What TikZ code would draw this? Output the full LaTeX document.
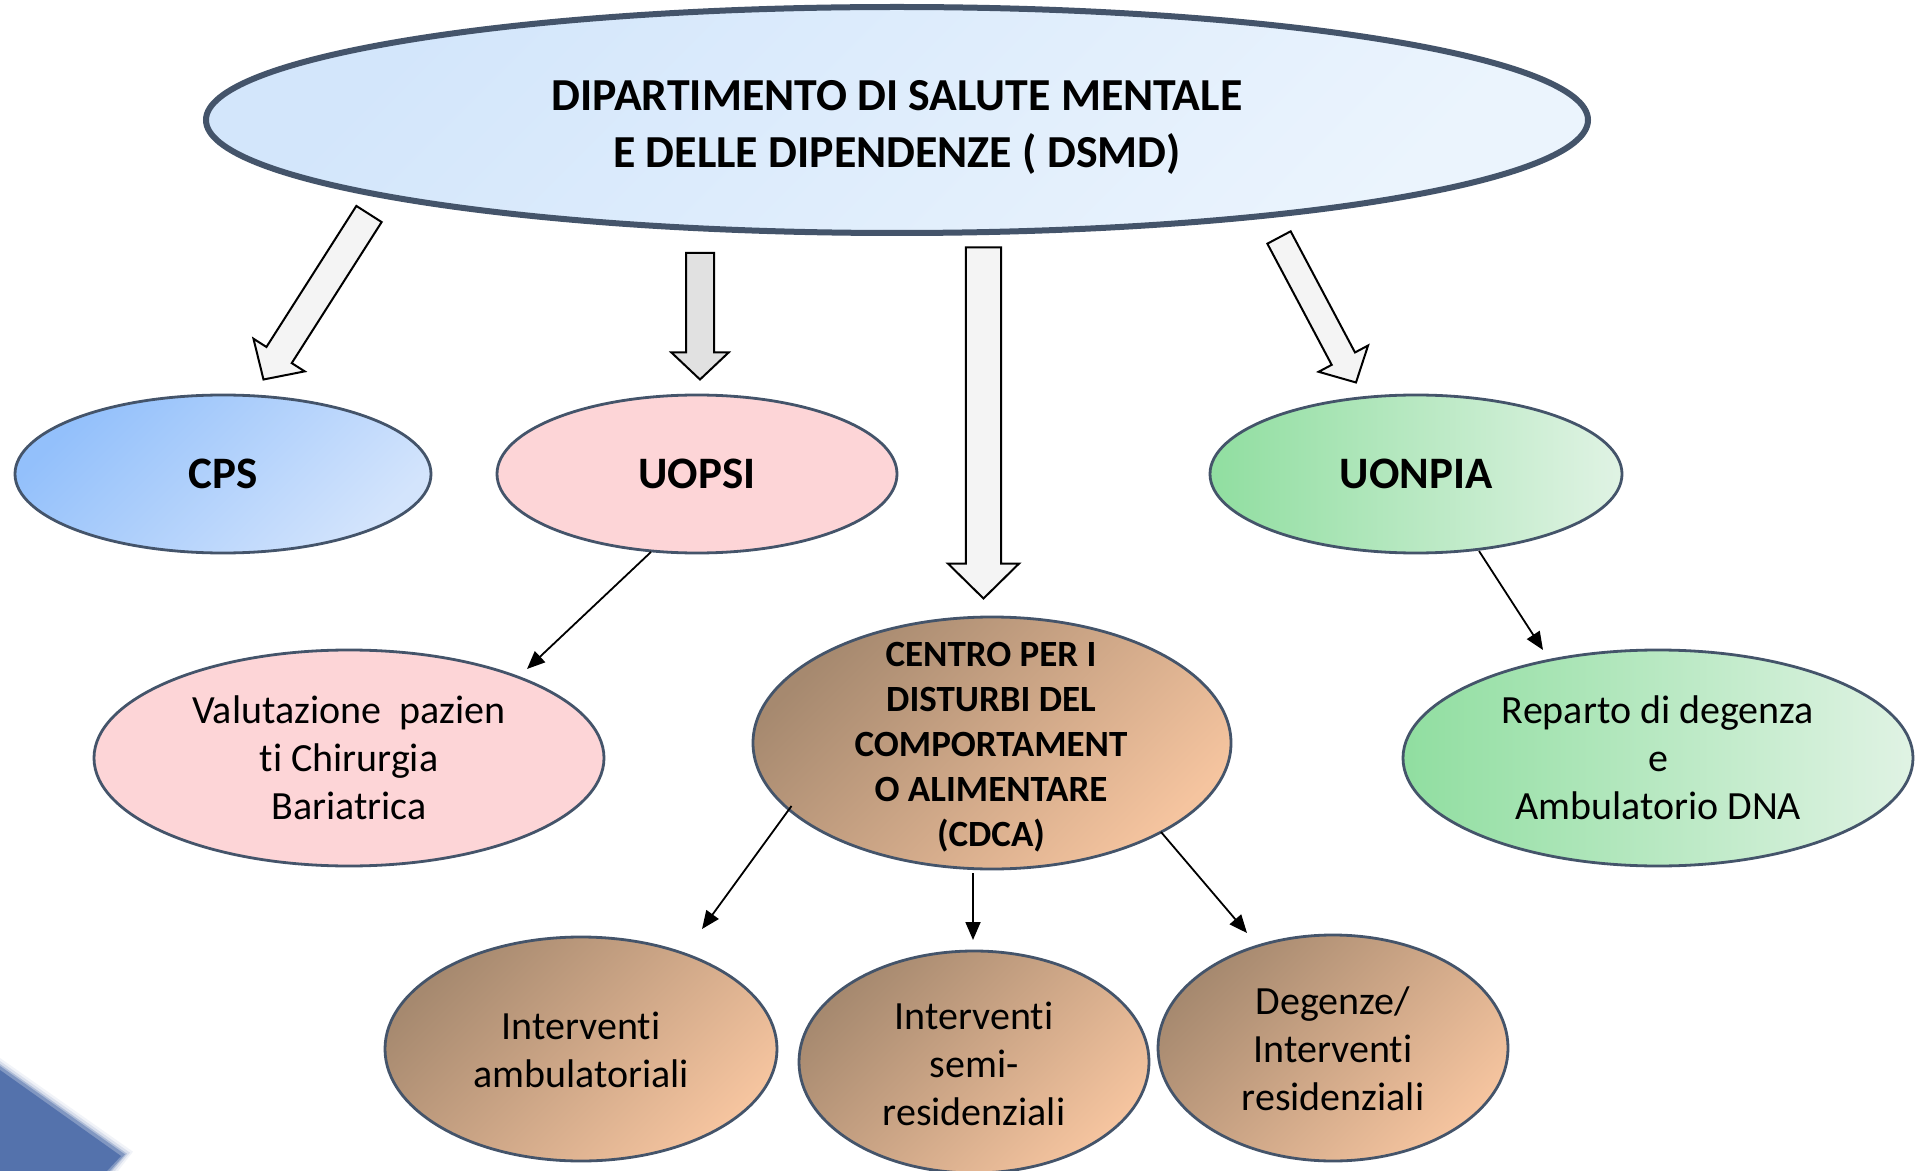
\documentclass[tikz,border=0pt]{standalone}
\usepackage{fontspec}
\setmainfont[Ligatures=NoCommon]{Carlito}
\usetikzlibrary{shapes.geometric,calc,arrows.meta}
\definecolor{edgec}{HTML}{44546A}
\definecolor{mainA}{HTML}{D3E6FB}
\definecolor{mainB}{HTML}{EBF4FD}
\definecolor{cpsA}{HTML}{93C0FB}
\definecolor{cpsB}{HTML}{D3E4FC}
\definecolor{pinkc}{HTML}{FDD5D7}
\definecolor{grA}{HTML}{90DEA0}
\definecolor{grB}{HTML}{E0F3E4}
\definecolor{brA}{HTML}{A6896F}
\definecolor{brB}{HTML}{F5C49F}
\definecolor{blobc}{HTML}{5472AC}
\definecolor{arrf}{HTML}{F4F4F4}
\definecolor{arrg}{HTML}{E1E1E1}
\newcommand{\blockarr}[6]{%
  \path ($(#2)!#5!(#1)$) coordinate (hb);
  \draw[blockarrow,fill=#6] ($(#1)!#3!90:(#2)$) -- ($(hb)!#3!90:(#2)$) -- ($(hb)!#4!90:(#2)$) -- (#2) -- ($(hb)!#4!-90:(#2)$) -- ($(hb)!#3!-90:(#2)$) -- ($(#1)!#3!-90:(#2)$) -- cycle;
}
\begin{document}
\begin{tikzpicture}[x=0.5pt,y=-0.5pt,
  ell/.style={ellipse, draw=edgec, line width=1.4pt, inner sep=0pt},
  mainell/.style={ell, line width=3pt, top color=mainA, bottom color=mainB, shading angle=45},
  cpsell/.style={ell, top color=cpsA, bottom color=cpsB, shading angle=45},
  pinkell/.style={ell, fill=pinkc},
  greenell/.style={ell, left color=grA, right color=grB},
  brownell/.style={ell, top color=brA, bottom color=brB, shading angle=45},
  thin/.style={-{Triangle[length=9pt,width=7.5pt]}, line width=0.9pt},
  blockarrow/.style={draw=black, line width=1pt, line join=miter},
  tmain/.style={font=\bfseries\fontsize{22.9}{28.5}\selectfont, align=center},
  tbig/.style={font=\bfseries\fontsize{22.5}{27}\selectfont, align=center},
  tcdca/.style={font=\bfseries\fontsize{18.5}{22.5}\selectfont, align=center},
  treg/.style={font=\fontsize{20}{24}\selectfont, align=center}
]
\useasboundingbox (0,0) rectangle (1922,1171);
\fill[white] (0,0) rectangle (1922,1171);

% decorative blob (soft edge)
\foreach \d/\o in {10/0.08,7/0.15,4/0.3,2/0.5}{
  \fill[blobc, opacity=\o] (0,1068-\d) -- (123+\d,1155-\d/3) -- (108+\d,1171) -- (0,1171) -- cycle;
}
\fill[blobc] (0,1070) -- (121,1156) -- (107,1171) -- (0,1171) -- cycle;

% ellipses
\node[mainell, minimum width=1382pt/2, minimum height=226pt/2] (dsmd) at (897,120) {};
\node[tmain] (dsmdt) at (897,127) {DIPARTIMENTO DI SALUTE MENTALE\\E DELLE DIPENDENZE ( DSMD)};

\node[cpsell, minimum width=208pt, minimum height=79pt] (cps) at (223,474) {};
\node[tbig] (cpst) at (cps) {CPS};
\node[pinkell, minimum width=200pt, minimum height=79pt] (uopsi) at (697,474) {};
\node[tbig] (uopsit) at (uopsi) {UOPSI};
\node[greenell, minimum width=206pt, minimum height=79pt] (uonpia) at (1416,474) {};
\node[tbig] (uonpiat) at (uonpia) {UONPIA};

\node[pinkell, minimum width=255pt, minimum height=108pt] (valut) at (349,758) {};
\node[treg] (valutt) at (349,758) {Valutazione~ pazien\\ti Chirurgia\\Bariatrica};
\node[brownell, minimum width=239pt, minimum height=126pt] (cdca) at (992,743) {};
\node[tcdca] (cdcat) at (991,747) {CENTRO PER I\\DISTURBI DEL\\COMPORTAMENT\\O ALIMENTARE\\(CDCA)};
\node[greenell, minimum width=255pt, minimum height=108pt] (reparto) at (1658,758) {};
\node[treg] (repartot) at (1658,758) {Reparto di degenza\\e\\Ambulatorio DNA};

\node[brownell, minimum width=196pt, minimum height=112pt] (amb) at (581,1049) {};
\node[treg] (ambt) at (581,1050) {Interventi\\ambulatoriali};
\node[brownell, minimum width=175pt, minimum height=111pt] (semi) at (974,1062) {};
\node[treg] (semit) at (974,1064) {Interventi\\semi-\\residenziali};
\node[brownell, minimum width=175pt, minimum height=113pt] (deg) at (1333,1048) {};
\node[treg] (degt) at (1333,1049) {Degenze/\\Interventi\\residenziali};

% block arrows
\coordinate (a1s) at (369,214);   \coordinate (a1e) at (263.5,379.5);
\coordinate (a2s) at (700,253);   \coordinate (a2e) at (700,379.5);
\coordinate (a3s) at (983.5,247.5); \coordinate (a3e) at (983.5,598.5);
\coordinate (a4s) at (1279,237.5); \coordinate (a4e) at (1356,382.5);
\blockarr{a1s}{a1e}{7.5pt}{15.2pt}{14.5pt}{arrf}
\blockarr{a2s}{a2e}{7pt}{14.3pt}{13.5pt}{arrg}
\blockarr{a3s}{a3e}{8.8pt}{17.8pt}{17.5pt}{arrf}
\blockarr{a4s}{a4e}{6.6pt}{14pt}{13.5pt}{arrf}

% thin arrows
\coordinate (t1s) at (651,552);  \coordinate (t1e) at (527,669);
\coordinate (t2s) at (1479,551); \coordinate (t2e) at (1543,650);
\coordinate (t3s) at (791.5,806); \coordinate (t3e) at (702,929);
\coordinate (t4s) at (973,873);  \coordinate (t4e) at (973,940);
\coordinate (t5s) at (1161,832); \coordinate (t5e) at (1247,933);
\draw[thin] (t1s) -- (t1e);
\draw[thin] (t2s) -- (t2e);
\draw[thin] (t3s) -- (t3e);
\draw[thin] (t4s) -- (t4e);
\draw[thin] (t5s) -- (t5e);
\end{tikzpicture}
\end{document}
